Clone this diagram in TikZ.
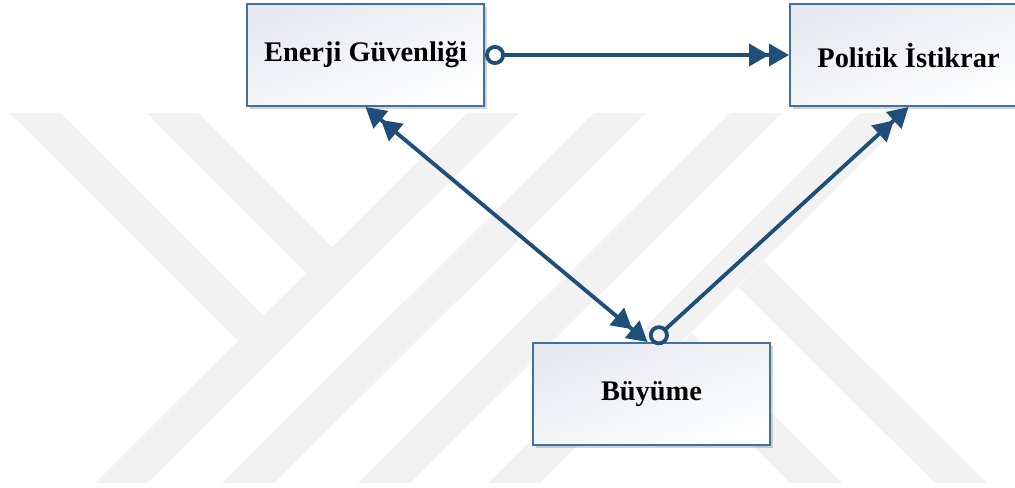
\documentclass[tikz,border=0pt]{standalone}
\usepackage{fontspec}
\setmainfont{Liberation Serif}
\usepackage{xcolor}
\usetikzlibrary{arrows.meta, positioning, shadows}

\definecolor{boxline}{HTML}{41719C}
\definecolor{boxtint}{HTML}{E6E9F0}
\definecolor{arrowblue}{HTML}{1F4E79}

\tikzset{
    dtri/.tip = {Triangle[length=10pt,width=11pt] Triangle[length=10pt,width=11pt]},
    ring/.tip = {Circle[open,length=10pt]}
}

\begin{document}
\begin{tikzpicture}[
        x=0.5pt, y=-0.5pt,
        node distance = 152pt,
        wmark/.style = {
            fill=gray!10
        },
        box/.style = {
            rectangle,
            draw=boxline,
            line width=1pt,
            minimum width=118.5pt,
            minimum height=51pt,
            align=center,
            top color=boxtint,
            bottom color=white,
            shading angle=20,
            drop shadow={shadow xshift=1.3pt, shadow yshift=-1.5pt, opacity=0.35},
            font=\fontsize{14.2}{17}\selectfont\bfseries
        },
        arrow/.style = {
            draw=arrowblue,
            line width=1.9pt
        }
    ]
    \useasboundingbox (0,0) rectangle (1015,487);

    % Watermark
    \foreach \t in {467,594,730,860}
        \fill[wmark] (\t,113) -- ++(52,0) -- ++(-372,370) -- ++(-52,0) -- cycle;
    \fill[wmark] (10,113) -- (61,113) -- (264,316) -- (239,342) -- cycle;
    \fill[wmark] (147,113) -- (198,113) -- (333,248) -- (307,274) -- cycle;
    \fill[wmark] (764,261) -- (738,287) -- (935,483) -- (987,483) -- cycle;
    \fill[wmark] (692,333) -- (666,359) -- (790,483) -- (842,483) -- cycle;

    % Nodes
    \node[box] (enerji) at (365.5,55) {Enerji Güvenliği};
    \node[box, right=of enerji] (istikrar) {Politik İstikrar};
    \node[box] (buyume) at (651.5,394) {Büyüme};

    % Arrows
    \draw[arrow, ring-dtri] (enerji) -- (istikrar);
    \draw[arrow, dtri-dtri] (enerji.south) -- ([xshift=-2pt]buyume.north);
    \draw[arrow, ring-dtri] (buyume.north) -- (istikrar.south);

\end{tikzpicture}
\end{document}
